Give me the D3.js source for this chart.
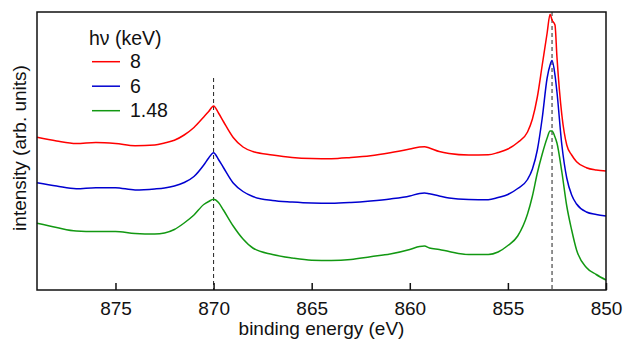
<!DOCTYPE html>
<html>
<head>
<meta charset="utf-8">
<script src="https://cdn.jsdelivr.net/npm/d3@7"></script>
<style>
  body { margin: 0; background: #fff; }
  svg text { font-family: "Liberation Sans", Arial, sans-serif; fill: #111; }
</style>
</head>
<body>
<div id="chart"></div>
<script>
// binding energy grid (eV)
var energy = [879, 878, 877, 876, 875, 874, 873, 872.5, 872, 871.5,
  871, 870.5, 870.25, 870, 869.75, 869.5, 869, 868.5, 868, 867,
  866, 865, 864, 863, 862, 861, 860, 859.5, 859.25, 859,
  858.5, 858, 857, 856, 855.5, 855, 854.5, 854, 853.75, 853.5,
  853.25, 853, 852.85, 852.75, 852.6, 852.5, 852.25, 852, 851.75, 851.5,
  851, 850.5, 850];

// intensity (arb. units), one list per photon energy
var i8 = [152.7, 149, 146.5, 147.5, 146.5, 144.3, 145, 147, 149.7, 155,
  162.5, 173, 178.5, 184, 177, 168.5, 152.5, 143, 138.5, 135,
  132.5, 131.5, 131.3, 132.5, 134.3, 137.3, 141, 143, 143.3, 142,
  138.5, 136.5, 135, 135.2, 137.5, 141, 147.5, 158, 171, 193,
  225, 257, 275.7, 270, 265, 233, 175, 145, 135, 128.3,
  122.3, 120, 119];
var i6 = [107.3, 104, 101.3, 102.3, 102.3, 100, 101, 102, 104, 107.5,
  113.5, 125, 132, 137.3, 130.5, 122.5, 107, 98.5, 93.5, 89.5,
  88, 87, 86.7, 87.5, 89, 91, 94, 96.6, 97, 96.2,
  94, 92, 90.5, 90.3, 92.5, 95.5, 101.5, 110.5, 121, 140,
  172, 212, 225, 229.5, 215, 198, 145, 112, 95, 86,
  78, 75.5, 74];
var i148 = [66.7, 62.5, 59, 58.5, 58.6, 56.5, 56, 57, 60.5, 67,
  75, 85.5, 88.5, 90.7, 87.5, 80, 64, 51, 42, 35.5,
  32, 29.8, 29.5, 30.5, 33.3, 36, 40.5, 43.5, 44, 42,
  40.5, 38.5, 35.5, 35.5, 38, 44.5, 54, 76, 94, 117,
  136, 152, 159, 159, 153, 147, 118, 84, 60, 40,
  22.5, 15.5, 10];

var seriesNames = ["8", "6", "1.48"];
var seriesColors = ["#ff0000", "#0000d0", "#129812"];
var seriesValues = [i8, i6, i148];

var xTicks = [875, 870, 865, 860, 855, 850];
// dashed guide lines: energy and the intensity where each one starts
var guideEnergy = [870, 852.75];
var guideTop = [212, 278];

var W = 626, H = 341;
var margin = {top: 12, right: 20, bottom: 51, left: 37};
var width = W - margin.left - margin.right;
var height = H - margin.top - margin.bottom;

var svg = d3.select("#chart").append("svg").attr("width", W).attr("height", H)
  .append("g").attr("transform", "translate(" + margin.left + "," + margin.top + ")");

var x = d3.scaleLinear().domain([879, 850]).range([0, width]);
var y = d3.scaleLinear().domain([0, 278]).range([height, 0]);

// dashed lines
svg.selectAll(".guide").data(guideEnergy).join("line").attr("class", "guide")
  .attr("x1", d => x(d)).attr("x2", d => x(d))
  .attr("y1", (d, i) => y(guideTop[i])).attr("y2", height)
  .attr("stroke", "#222").attr("stroke-width", 1).attr("stroke-dasharray", "4,3");

// spectra
var line = d3.line().x((d, i) => x(energy[i])).y(d => y(d)).curve(d3.curveMonotoneX);
svg.selectAll(".spec").data(seriesValues).join("path").attr("class", "spec")
  .attr("d", d => line(d)).attr("fill", "none")
  .attr("stroke", (d, i) => seriesColors[i]).attr("stroke-width", 1.5)
  .attr("stroke-linejoin", "round");

// bottom axis, ticks pointing in
var xAxis = svg.append("g").attr("transform", "translate(0," + height + ")")
  .call(d3.axisBottom(x).tickValues(xTicks).tickSizeInner(-7).tickSizeOuter(0).tickPadding(12).tickFormat(d3.format("d")));
xAxis.select(".domain").remove();
xAxis.selectAll("line").attr("stroke", "#111").attr("stroke-width", 1.5);
xAxis.selectAll("text").attr("font-size", 19).attr("fill", "#111")
  .attr("font-family", "'Liberation Sans', Arial, sans-serif");

// frame
svg.append("rect").attr("width", width).attr("height", height)
  .attr("fill", "none").attr("stroke", "#111").attr("stroke-width", 1.5);

svg.append("text").attr("x", width / 2).attr("y", height + 45).attr("text-anchor", "middle")
  .attr("font-size", 19).text("binding energy (eV)");
svg.append("text").attr("transform", "rotate(-90)").attr("x", -136).attr("y", -11)
  .attr("text-anchor", "middle").attr("font-size", 19).text("intensity (arb. units)");

// legend
var lg = svg.append("g").attr("transform", "translate(52,0)");
lg.append("text").attr("x", 0).attr("y", 33).attr("font-size", 19.5).text("hν (keV)");
seriesNames.forEach((n, i) => {
  var yy = 49.7 + i * 24.5;
  lg.append("line").attr("x1", 3).attr("x2", 31).attr("y1", yy).attr("y2", yy)
    .attr("stroke", seriesColors[i]).attr("stroke-width", 1.5);
  lg.append("text").attr("x", 41).attr("y", yy + 6.6).attr("font-size", 19.5).text(n);
});
</script>
</body>
</html>
